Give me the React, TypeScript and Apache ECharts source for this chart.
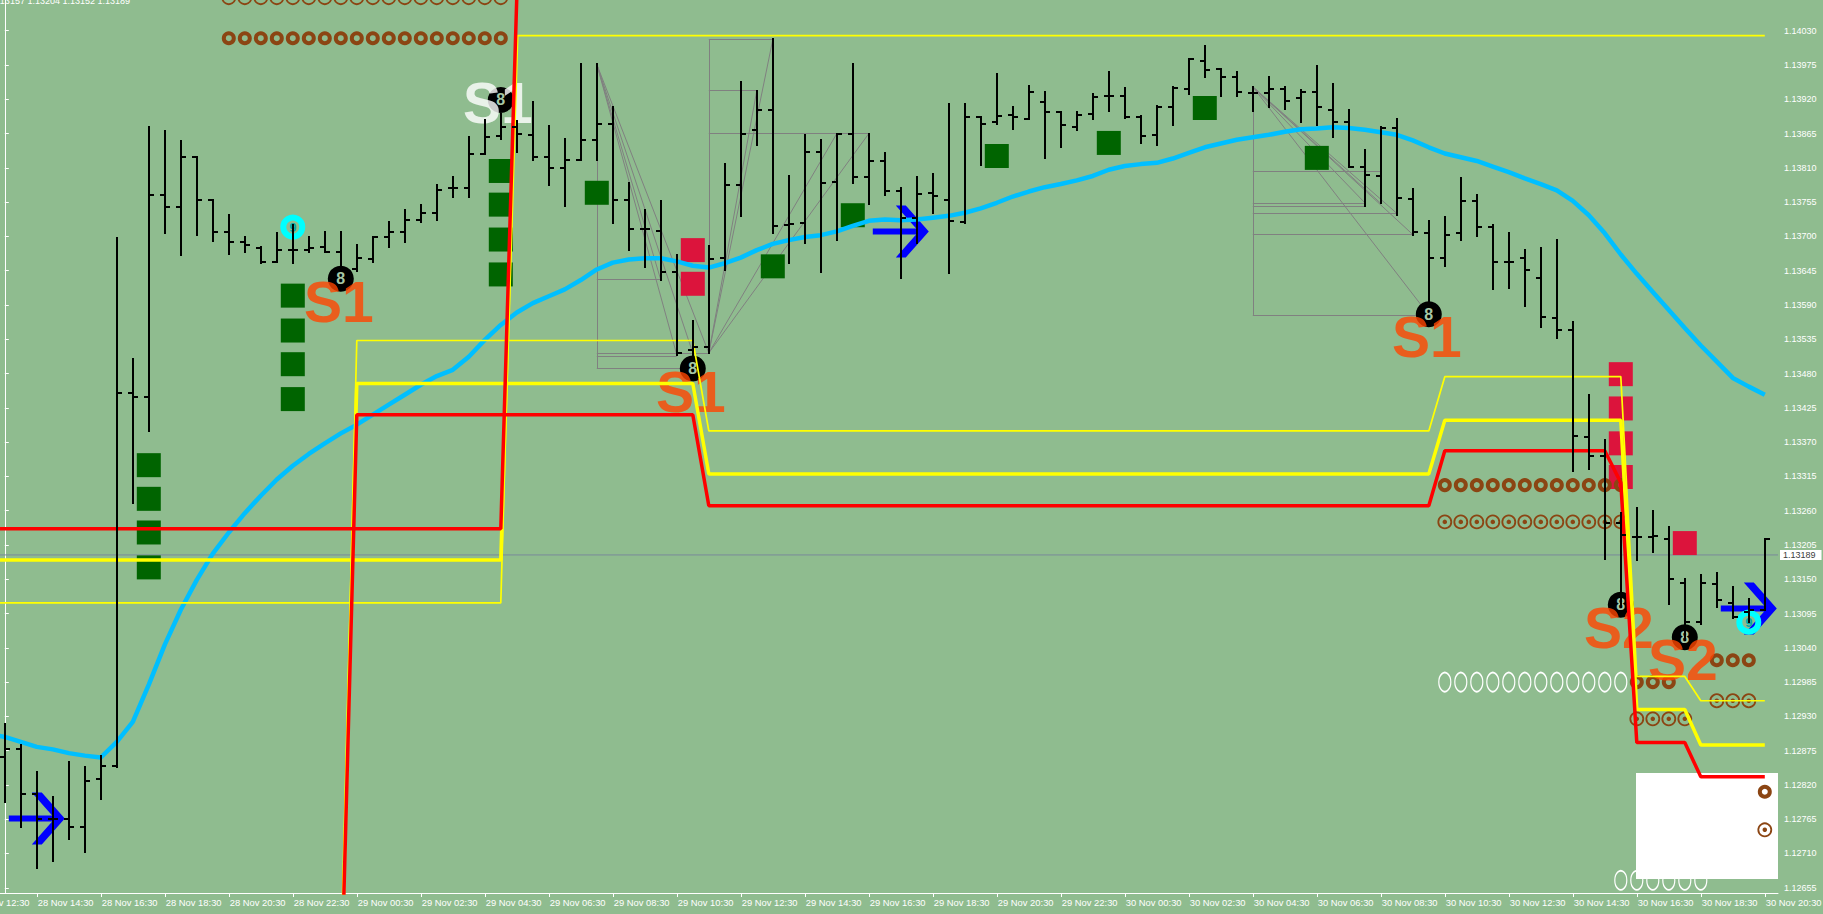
import React, { useEffect, useRef } from "react";
import * as echarts from "echarts";

// ---------- axes ----------
const X_MIN = -0.3;
const X_MAX = 110.825;
const Y_MIN = 1.126466;
const Y_MAX = 1.140793;

const xTickBars = [2, 6, 10, 14, 18, 22, 26, 30, 34, 38, 42, 46, 50, 54, 58, 62, 66, 70, 74, 78, 82, 86, 90, 94, 98, 102, 106, 110];
const xTickLabels = [
  "28 Nov 14:30", "28 Nov 16:30", "28 Nov 18:30", "28 Nov 20:30", "28 Nov 22:30",
  "29 Nov 00:30", "29 Nov 02:30", "29 Nov 04:30", "29 Nov 06:30", "29 Nov 08:30",
  "29 Nov 10:30", "29 Nov 12:30", "29 Nov 14:30", "29 Nov 16:30", "29 Nov 18:30",
  "29 Nov 20:30", "29 Nov 22:30", "30 Nov 00:30", "30 Nov 02:30", "30 Nov 04:30",
  "30 Nov 06:30", "30 Nov 08:30", "30 Nov 10:30", "30 Nov 12:30", "30 Nov 14:30",
  "30 Nov 16:30", "30 Nov 18:30", "30 Nov 20:30",
];
const firstPartialLabel = { bar: -2, text: "28 Nov 12:30" };

const yTicks = [
  1.12655, 1.1271, 1.12765, 1.1282, 1.12875, 1.1293, 1.12985, 1.1304, 1.13095, 1.1315,
  1.13205, 1.1326, 1.13315, 1.1337, 1.13425, 1.1348, 1.13535, 1.1359, 1.13645, 1.137,
  1.13755, 1.1381, 1.13865, 1.1392, 1.13975, 1.1403,
];

const lastPrice = 1.13189;
const headerText = "1.13157 1.13204 1.13152 1.13189";

// ---------- price bars: [open, high, low, close], bar 0 = 28 Nov 13:30 ----------
const ohlc: number[][] = [
  [1.12865, 1.12917, 1.12793, 1.12877], [1.12877, 1.12884, 1.12752, 1.12805], [1.12805, 1.1284, 1.12686, 1.12765],
  [1.12765, 1.12801, 1.12698, 1.12765], [1.12765, 1.12856, 1.12734, 1.12753], [1.12753, 1.12849, 1.12712, 1.12827],
  [1.12829, 1.12867, 1.12797, 1.12851], [1.12851, 1.13697, 1.12848, 1.13448], [1.13448, 1.13504, 1.13272, 1.13442],
  [1.13442, 1.13875, 1.13388, 1.13766], [1.13766, 1.13869, 1.13705, 1.13747], [1.13747, 1.13853, 1.1367, 1.13827],
  [1.13827, 1.13827, 1.13702, 1.13759], [1.13759, 1.13759, 1.13693, 1.13707], [1.13707, 1.13735, 1.13671, 1.13691],
  [1.13691, 1.13699, 1.13675, 1.13686], [1.13681, 1.13683, 1.13657, 1.13659], [1.13659, 1.13705, 1.13659, 1.13679],
  [1.13679, 1.13719, 1.13657, 1.13679], [1.13679, 1.13699, 1.13675, 1.13681], [1.13683, 1.13707, 1.13675, 1.13675],
  [1.13675, 1.13707, 1.13648, 1.13648], [1.13648, 1.13686, 1.13644, 1.13665], [1.13663, 1.13699, 1.13659, 1.13699],
  [1.13699, 1.13723, 1.13683, 1.13707], [1.13707, 1.13742, 1.13691, 1.13727], [1.13727, 1.1375, 1.13723, 1.13737],
  [1.13737, 1.13782, 1.13727, 1.13775], [1.13777, 1.13796, 1.13763, 1.13777], [1.13777, 1.13859, 1.13763, 1.13832],
  [1.13833, 1.13887, 1.13832, 1.1386], [1.13861, 1.13897, 1.13857, 1.13875], [1.13875, 1.13885, 1.13836, 1.13865],
  [1.13863, 1.13915, 1.13823, 1.13828], [1.13827, 1.13877, 1.13782, 1.13809], [1.13809, 1.13857, 1.13748, 1.13823],
  [1.13823, 1.13976, 1.13823, 1.13855], [1.13855, 1.13976, 1.13823, 1.13881], [1.13881, 1.13907, 1.13721, 1.13759],
  [1.13759, 1.13786, 1.13679, 1.13712], [1.13712, 1.13743, 1.13651, 1.13712], [1.13709, 1.13757, 1.1363, 1.13643],
  [1.13643, 1.1367, 1.1351, 1.13513], [1.13518, 1.13565, 1.13507, 1.13523], [1.13523, 1.13684, 1.13513, 1.13663],
  [1.13665, 1.13816, 1.13646, 1.13782], [1.13782, 1.13947, 1.13733, 1.13864], [1.13871, 1.13934, 1.13847, 1.13903],
  [1.13903, 1.14016, 1.13705, 1.13716], [1.13718, 1.13797, 1.13657, 1.1372], [1.13722, 1.13863, 1.1369, 1.13836],
  [1.13836, 1.13855, 1.13643, 1.13786], [1.13788, 1.13865, 1.13694, 1.13864], [1.13864, 1.13976, 1.13786, 1.13795],
  [1.13795, 1.13865, 1.13752, 1.13821], [1.13821, 1.13834, 1.13766, 1.13773], [1.13773, 1.13777, 1.13634, 1.13729],
  [1.13729, 1.13796, 1.13689, 1.13768], [1.1377, 1.138, 1.13738, 1.13765], [1.13758, 1.13912, 1.13642, 1.13725],
  [1.13723, 1.13912, 1.13721, 1.13891], [1.13891, 1.13892, 1.13815, 1.1388], [1.13883, 1.13961, 1.13881, 1.13893],
  [1.13895, 1.13907, 1.13873, 1.13891], [1.13889, 1.13941, 1.13888, 1.13931], [1.13915, 1.13931, 1.13826, 1.139],
  [1.13899, 1.139, 1.13843, 1.13879], [1.13876, 1.13899, 1.13871, 1.13895], [1.13896, 1.13929, 1.13888, 1.13923],
  [1.13925, 1.13964, 1.13902, 1.13925], [1.13926, 1.13938, 1.1389, 1.13891], [1.13891, 1.13893, 1.1385, 1.13861],
  [1.13863, 1.13909, 1.13847, 1.13907], [1.13907, 1.13939, 1.13878, 1.13938], [1.13937, 1.13985, 1.13928, 1.13984],
  [1.13982, 1.14006, 1.13956, 1.13967], [1.13968, 1.13968, 1.13926, 1.13956], [1.13955, 1.13963, 1.13926, 1.13932],
  [1.1393, 1.1394, 1.13902, 1.1393], [1.1393, 1.13956, 1.13907, 1.13936], [1.13936, 1.1394, 1.13904, 1.13918],
  [1.13922, 1.13935, 1.13884, 1.13932], [1.13931, 1.13973, 1.13878, 1.13908], [1.13903, 1.13945, 1.13859, 1.13884],
  [1.13884, 1.13903, 1.13812, 1.13812], [1.13811, 1.13839, 1.13748, 1.13798], [1.13797, 1.13875, 1.13753, 1.13874],
  [1.13874, 1.13888, 1.13735, 1.13762], [1.1376, 1.13776, 1.13702, 1.13707], [1.13705, 1.13725, 1.13588, 1.13665],
  [1.13665, 1.13731, 1.13652, 1.13703], [1.13705, 1.13794, 1.13694, 1.13757], [1.13757, 1.13766, 1.13701, 1.13715],
  [1.13715, 1.13718, 1.13615, 1.13659], [1.13659, 1.13705, 1.13617, 1.13659], [1.13665, 1.13678, 1.13589, 1.13646],
  [1.13634, 1.13682, 1.13555, 1.1357], [1.13569, 1.13694, 1.13537, 1.1355], [1.1355, 1.13562, 1.13323, 1.1338],
  [1.13378, 1.13446, 1.13327, 1.13348], [1.13348, 1.13373, 1.13182, 1.1324], [1.13241, 1.13257, 1.13106, 1.13221],
  [1.13218, 1.13264, 1.13181, 1.13217], [1.13218, 1.1326, 1.13193, 1.1322], [1.13214, 1.13233, 1.1311, 1.13151],
  [1.13144, 1.1315, 1.13052, 1.13082], [1.13082, 1.13157, 1.13078, 1.13144], [1.13143, 1.1316, 1.13105, 1.13116],
  [1.13112, 1.13138, 1.13087, 1.1309], [1.13098, 1.13119, 1.13082, 1.131], [1.131, 1.13214, 1.131, 1.13214],
];

// ---------- moving average, bar -1 .. 110 ----------
const maFirstBar = -1;
const ma = [
  1.12902, 1.12897, 1.12889, 1.12881, 1.12877, 1.12871, 1.12867, 1.12864, 1.12889, 1.12921,
  1.12981, 1.13045, 1.13101, 1.13149, 1.13191, 1.13225, 1.13256, 1.13284, 1.1331, 1.13332,
  1.13351, 1.13368, 1.13384, 1.13398, 1.13414, 1.1343, 1.13446, 1.13462, 1.13476, 1.13486,
  1.13507, 1.13534, 1.13558, 1.13578, 1.13593, 1.13604, 1.13615, 1.1363, 1.13647, 1.13658,
  1.13663, 1.13665, 1.13665, 1.1366, 1.13653, 1.1365, 1.13657, 1.13666, 1.13678, 1.13688,
  1.13694, 1.13699, 1.13702, 1.13708, 1.13717, 1.13725, 1.13727, 1.13726, 1.13727, 1.1373,
  1.13733, 1.13738, 1.13745, 1.13754, 1.13764, 1.13772, 1.13779, 1.13784, 1.1379, 1.13797,
  1.13807, 1.13813, 1.13816, 1.13818, 1.13825, 1.13834, 1.13843, 1.13849, 1.13855, 1.13859,
  1.13863, 1.13868, 1.13872, 1.13873, 1.13875, 1.13874, 1.13871, 1.13867, 1.13863, 1.13854,
  1.13843, 1.13833, 1.13827, 1.13821, 1.13812, 1.13803, 1.13793, 1.13784, 1.13774, 1.13757,
  1.13734, 1.13705, 1.13671, 1.1364, 1.13611, 1.13582, 1.13553, 1.13525, 1.13499, 1.13473,
  1.13459, 1.13446,
];

// ---------- stop lines: vertices [bar, price] ----------
const redA = [[-1, 1.13231], [31, 1.13231], [32, 1.14085]];
const yellowThickA = [[-1, 1.13181], [31, 1.13181], [32, 1.14022]];
const yellowThinA = [[-1, 1.13112], [31, 1.13112], [32, 1.14022], [110, 1.14022]];
const redB = [[21, 1.1246], [22, 1.13414], [43, 1.13414], [44, 1.13268], [89, 1.13268], [90, 1.13356], [100, 1.13356], [101, 1.13305], [102, 1.12888], [105, 1.12888], [106, 1.12833], [110, 1.12833]];
const yellowThickB = [[21, 1.1248], [22, 1.13464], [43, 1.13464], [44, 1.13319], [89, 1.13319], [90, 1.13405], [101, 1.13405], [102, 1.12941], [105, 1.12941], [106, 1.12884], [110, 1.12884]];
const yellowThinB = [[21, 1.125], [22, 1.13533], [43, 1.13533], [44, 1.13388], [89, 1.13388], [90, 1.13475], [101, 1.13475], [102, 1.12994], [105, 1.12994], [106, 1.12955], [110, 1.12955]];

// ---------- markers ----------
const greenSquares = [
  [9, 1.13333], [9, 1.13279], [9, 1.13225], [9, 1.13169],
  [18, 1.13605], [18, 1.13549], [18, 1.13495], [18, 1.13439],
  [31, 1.13805], [31, 1.13751], [31, 1.13695], [31, 1.13639],
  [37, 1.1377], [48, 1.13652], [53, 1.13734], [62, 1.13829], [69, 1.1385], [75, 1.13906], [82, 1.13826],
];
const crimsonSquares = [
  [43, 1.13678], [43, 1.13624],
  [101, 1.13479], [101, 1.13424], [101, 1.13368], [101, 1.13314],
  [105, 1.13208],
];
const blueArrows = [[2, 1.12766], [56, 1.13708], [109, 1.13103]];
const cyanNines = [[18, 1.13715], [109, 1.13081]];
const orangeSignals = [
  [21, 1.13632, "S1"], [43, 1.13488, "S1"], [89, 1.13575, "S1"], [101, 1.13109, "S2"], [105, 1.13057, "S2"],
];
const whiteSignals = [[31, 1.13919, "S1"]];

// ring runs: [fromBar, toBar, price]
const thickRingRuns = [[14, 31, 1.14018], [90, 101, 1.13301], [102, 104, 1.12985], [107, 109, 1.1302], [110, 110, 1.12809]];
const dottedRingRuns = [[14, 31, 1.14083], [90, 101, 1.13242], [102, 105, 1.12926], [107, 109, 1.12955], [110, 110, 1.12748]];
const whiteRingRuns = [[90, 101, 1.12985], [101, 106, 1.12667]];

const infoBox = { fromBar: 101.95, toBar: X_MAX, top: 1.12839, bottom: 1.12669 };

// grey drawing lines: [bar1, price1, bar2, price2]
const greySegments = [
  [37, 1.13976, 42, 1.1351], [37, 1.13976, 43, 1.13513], [37, 1.13976, 44, 1.13513], [37, 1.13976, 41, 1.1363],
  [37, 1.13976, 37, 1.13488], [37, 1.13631, 41, 1.13631], [37, 1.13513, 44, 1.13513], [37, 1.13508, 42, 1.13508],
  [37, 1.13488, 43, 1.13488],
  [44, 1.13513, 44, 1.14016], [44, 1.14016, 48, 1.14016], [44, 1.13934, 47, 1.13934], [44, 1.13865, 54, 1.13865],
  [44, 1.13513, 48, 1.14016], [44, 1.13513, 47, 1.13934], [44, 1.13513, 52, 1.13865], [44, 1.13513, 54, 1.13865],
  [78, 1.1394, 78, 1.13574], [78, 1.13804, 86, 1.13804], [78, 1.13754, 85, 1.13754], [78, 1.13748, 85, 1.13748],
  [78, 1.13737, 87, 1.13737], [78, 1.13703, 88, 1.13703], [78, 1.13574, 89, 1.13574],
  [78, 1.1394, 85, 1.13754], [78, 1.1394, 86, 1.13753], [78, 1.1394, 87, 1.13737], [78, 1.1394, 88, 1.13703],
  [78, 1.1394, 89, 1.13574],
];

const runsToPoints = (runs: number[][]) => {
  const pts: number[][] = [];
  runs.forEach(([a, b, p]) => {
    for (let i = a; i <= b; i++) pts.push([i, p]);
  });
  return pts;
};

const FONT = "Liberation Sans, Arial, sans-serif";
const BROWN = "#8B4513";
const X_LABEL_SIZE = 9.4;

export default function App() {
  const ref = useRef<HTMLDivElement>(null);

  useEffect(() => {
    if (!ref.current) return;
    const chart = echarts.init(ref.current, undefined, { renderer: "svg" });

    const stepLine = (name: string, data: number[][], color: string, width: number, z: number) => ({
      name,
      type: "line",
      data,
      z,
      silent: true,
      symbol: "none",
      showSymbol: false,
      clip: true,
      lineStyle: { color, width },
    });

    const option: any = {
      animation: false,
      backgroundColor: "#8FBC8F",
      grid: { left: 0, right: 45, top: 0, bottom: 21, containLabel: false, outerBoundsMode: "none" },
      xAxis: {
        type: "value",
        min: X_MIN,
        max: X_MAX,
        splitLine: { show: false },
        axisLine: { show: true, onZero: false, lineStyle: { color: "#ffffff", width: 1 } },
        axisTick: { show: true, length: 4, lineStyle: { color: "#ffffff" }, customValues: xTickBars },
        axisLabel: {
          customValues: xTickBars,
          formatter: (v: number) => {
            const k = xTickBars.indexOf(Math.round(v));
            return k >= 0 ? xTickLabels[k] : "";
          },
          color: "#ffffff",
          fontSize: X_LABEL_SIZE,
          fontFamily: FONT,
          align: "left",
          margin: 5,
          padding: [0, 0, 0, 1],
        },
      },
      yAxis: {
        type: "value",
        position: "right",
        min: Y_MIN,
        max: Y_MAX,
        splitLine: { show: false },
        axisLine: { show: true, lineStyle: { color: "#ffffff", width: 1 } },
        axisTick: { show: true, length: 4, lineStyle: { color: "#ffffff" }, customValues: yTicks },
        axisLabel: {
          customValues: yTicks,
          formatter: (v: number) => v.toFixed(5),
          color: "#ffffff",
          fontSize: 9,
          fontFamily: FONT,
          margin: 6,
        },
      },
      series: [
        {
          name: "arrows",
          type: "scatter",
          z: 1,
          silent: true,
          data: blueArrows,
          symbol: "path://M0 23L46 23L46 29L0 29Z M23 0L33 0L56 26L33 52L23 52L46 26Z",
          symbolSize: [56, 52],
          itemStyle: { color: "#0000FF", opacity: 1 },
          markArea: {
            silent: true,
            itemStyle: { color: "#ffffff", opacity: 1 },
            data: [[{ coord: [infoBox.fromBar, infoBox.top] }, { coord: [infoBox.toBar, infoBox.bottom] }]],
          },
        },
        {
          name: "priceLine",
          type: "line",
          z: 2,
          silent: true,
          symbol: "none",
          showSymbol: false,
          data: [[X_MIN, lastPrice], [X_MAX, lastPrice]],
          lineStyle: { color: "#7a8a9a", width: 1 },
          endLabel: {
            show: true,
            formatter: lastPrice.toFixed(5),
            color: "#3c3c3c",
            backgroundColor: "#ffffff",
            fontSize: 9,
            fontFamily: FONT,
            padding: [1, 6, 0, 3],
            distance: 2,
          },
        },
        {
          name: "nines",
          type: "scatter",
          z: 1,
          silent: true,
          data: cyanNines,
          symbol: "circle",
          symbolSize: 19,
          itemStyle: { color: "rgba(0,0,0,0)", borderColor: "#00FFFF", borderWidth: 6, opacity: 1 },
          label: { show: true, formatter: "9", color: "#00a8a8", fontSize: 13, fontWeight: "bold", fontFamily: FONT },
        },
        {
          name: "drawings",
          type: "lines",
          coordinateSystem: "cartesian2d",
          z: 2,
          silent: true,
          polyline: false,
          lineStyle: { color: "#808080", width: 1, opacity: 1, curveness: 0 },
          data: greySegments.map((s) => ({ coords: [[s[0], s[1]], [s[2], s[3]]] })),
        },
        {
          name: "greenSquares",
          type: "scatter",
          z: 3,
          silent: true,
          data: greenSquares,
          symbol: "rect",
          symbolSize: 24,
          itemStyle: { color: "#006400", opacity: 1 },
        },
        {
          name: "crimsonSquares",
          type: "scatter",
          z: 3,
          silent: true,
          data: crimsonSquares,
          symbol: "rect",
          symbolSize: 24,
          itemStyle: { color: "#DC143C", opacity: 1 },
        },
        {
          name: "whiteRings",
          type: "scatter",
          z: 3,
          silent: true,
          data: runsToPoints(whiteRingRuns),
          symbol: "circle",
          symbolSize: [12, 19],
          itemStyle: { color: "rgba(0,0,0,0)", borderColor: "#ffffff", borderWidth: 1.5, opacity: 1 },
        },
        {
          name: "thickRings",
          type: "scatter",
          z: 3,
          silent: true,
          clip: false,
          data: runsToPoints(thickRingRuns),
          symbol: "circle",
          symbolSize: 10,
          itemStyle: { color: "rgba(0,0,0,0)", borderColor: BROWN, borderWidth: 4, opacity: 1 },
        },
        {
          name: "dottedRings",
          type: "scatter",
          z: 3,
          silent: true,
          clip: false,
          data: runsToPoints(dottedRingRuns),
          symbol: "circle",
          symbolSize: 13,
          itemStyle: { color: "rgba(0,0,0,0)", borderColor: BROWN, borderWidth: 1.8, opacity: 1 },
        },
        {
          name: "dottedRingDots",
          type: "scatter",
          z: 3,
          silent: true,
          clip: false,
          data: runsToPoints(dottedRingRuns),
          symbol: "circle",
          symbolSize: 4.5,
          itemStyle: { color: BROWN, opacity: 1 },
        },
        {
          name: "ma",
          type: "line",
          z: 4,
          silent: true,
          symbol: "none",
          showSymbol: false,
          data: ma.map((v, k) => [k + maFirstBar, v]),
          lineStyle: { color: "#00BFFF", width: 4.5 },
        },
        {
          name: "balls",
          type: "scatter",
          z: 4,
          silent: true,
          data: [...orangeSignals, ...whiteSignals].map((s) => [s[0], s[1]]),
          symbol: "circle",
          symbolSize: 26,
          itemStyle: { color: "#000000", opacity: 1 },
          label: { show: true, formatter: "8", color: "#a6c8a6", fontSize: 16, fontWeight: "bold", fontFamily: FONT },
        },
        {
          name: "orangeText",
          type: "scatter",
          z: 5,
          silent: true,
          data: orangeSignals,
          symbol: "circle",
          symbolSize: 1,
          itemStyle: { color: "rgba(0,0,0,0)" },
          label: {
            show: true,
            position: "inside",
            formatter: (p: any) => p.value[2],
            color: "#FF4500",
            fontSize: 57,
            fontWeight: "bold",
            fontFamily: FONT,
            offset: [-2, 23],
          },
        },
        {
          name: "whiteText",
          type: "scatter",
          z: 5,
          silent: true,
          data: whiteSignals,
          symbol: "circle",
          symbolSize: 1,
          itemStyle: { color: "rgba(0,0,0,0)" },
          label: {
            show: true,
            position: "inside",
            formatter: (p: any) => p.value[2],
            color: "#ffffff",
            fontSize: 57,
            fontWeight: "bold",
            fontFamily: FONT,
            offset: [-3, 3],
          },
        },
        stepLine("yellowThinA", yellowThinA, "#FFFF00", 1.7, 6),
        stepLine("yellowThinB", yellowThinB, "#FFFF00", 1.7, 6),
        stepLine("yellowThickA", yellowThickA, "#FFFF00", 3.5, 7),
        stepLine("yellowThickB", yellowThickB, "#FFFF00", 3.5, 7),
        stepLine("redA", redA, "#FF0000", 3.5, 8),
        stepLine("redB", redB, "#FF0000", 3.5, 8),
        {
          name: "bars",
          type: "custom",
          z: 10,
          silent: true,
          data: ohlc.map((b, i) => [i, b[0], b[1], b[2], b[3]]),
          encode: { x: 0, y: [1, 2, 3, 4] },
          renderItem: (params: any, api: any) => {
            const i = api.value(0);
            const o = api.coord([i, api.value(1)]);
            const h = api.coord([i, api.value(2)]);
            const l = api.coord([i, api.value(3)]);
            const c = api.coord([i, api.value(4)]);
            const x = Math.round(h[0]);
            const st = { stroke: "#000000", lineWidth: 2 };
            return {
              type: "group",
              children: [
                { type: "line", shape: { x1: x, y1: Math.round(h[1]) - 1, x2: x, y2: Math.round(l[1]) + 1 }, style: st },
                { type: "line", shape: { x1: x - 5, y1: Math.round(o[1]), x2: x, y2: Math.round(o[1]) }, style: st },
                { type: "line", shape: { x1: x, y1: Math.round(c[1]), x2: x + 5, y2: Math.round(c[1]) }, style: st },
              ],
            };
          },
        },
      ],
    };

    chart.setOption(option);

    const px = chart.convertToPixel({ xAxisIndex: 0 }, firstPartialLabel.bar) as number;
    const gridBottom = chart.getHeight() - 21;
    chart.setOption({
      graphic: [
        {
          type: "text",
          x: px + 1,
          y: gridBottom + 5,
          silent: true,
          style: {
            text: firstPartialLabel.text,
            fill: "#ffffff",
            fontSize: X_LABEL_SIZE,
            fontFamily: FONT,
            align: "left",
            verticalAlign: "top",
          },
        },
        {
          type: "text",
          x: 130,
          y: 5.5,
          silent: true,
          style: {
            text: headerText,
            fill: "#ffffff",
            fontSize: 9,
            fontFamily: FONT,
            align: "right",
            verticalAlign: "bottom",
          },
        },
      ],
    });

    return () => chart.dispose();
  }, []);

  return (
    <div
      ref={ref}
      style={{ position: "fixed", left: 0, top: 0, width: 1823, height: 914 }}
    />
  );
}
